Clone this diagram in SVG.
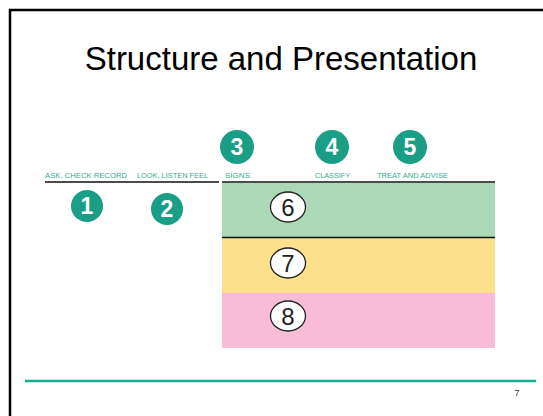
<svg xmlns="http://www.w3.org/2000/svg" width="543" height="416" viewBox="0 0 543 416">
<style>
.lbl{font-family:"Liberation Sans Narrow","Liberation Sans",Arial,sans-serif;font-size:7px;fill:#3aa992;}
.tc{fill:#1a9e86;}
.tn{font-family:"Liberation Sans",Arial,sans-serif;font-size:23px;font-weight:bold;fill:#ffffff;text-anchor:middle;}
.wc{fill:#ffffff;stroke:#222222;stroke-width:1.3;}
.wn{font-family:"Liberation Sans",Arial,sans-serif;font-size:24px;fill:#222222;text-anchor:middle;}
</style>
<rect width="543" height="416" fill="#ffffff"/>
<path d="M10 416 V10 H543" fill="none" stroke="#000000" stroke-width="2.5"/>
<text x="281" y="70" font-family="Liberation Sans, Arial, sans-serif" font-size="33" text-anchor="middle" fill="#000000">Structure and Presentation</text>
<g id="bands">
<rect x="222" y="183" width="273" height="54" fill="#acd9b5"/>
<rect x="222" y="238" width="273" height="55" fill="#fde08c"/>
<rect x="222" y="293" width="273" height="55" fill="#f8bcd6"/>
</g>
<g id="connectors">
<line x1="45" y1="182" x2="219" y2="182" stroke="#111111" stroke-width="1.3"/>
<line x1="222" y1="182" x2="495" y2="182" stroke="#111111" stroke-width="1.3"/>
<line x1="222" y1="237.5" x2="495" y2="237.5" stroke="#111111" stroke-width="1.3"/>
</g>
<g id="labels">
<text class="lbl" x="45" y="178" textLength="82" lengthAdjust="spacingAndGlyphs">ASK, CHECK RECORD</text>
<text class="lbl" x="137" y="178" textLength="71" lengthAdjust="spacingAndGlyphs">LOOK, LISTEN FEEL</text>
<text class="lbl" x="225" y="178" textLength="25" lengthAdjust="spacingAndGlyphs">SIGNS</text>
<text class="lbl" x="315" y="178" textLength="35" lengthAdjust="spacingAndGlyphs">CLASSIFY</text>
<text class="lbl" x="377" y="178" textLength="71" lengthAdjust="spacingAndGlyphs">TREAT AND ADVISE</text>
</g>
<g id="n1"><circle class="tc" cx="87" cy="206" r="16"/><text class="tn" x="87" y="214">1</text></g>
<g id="n2"><circle class="tc" cx="167" cy="209" r="16"/><text class="tn" x="167" y="217">2</text></g>
<g id="n3"><circle class="tc" cx="237" cy="147" r="17"/><text class="tn" x="237" y="155">3</text></g>
<g id="n4"><circle class="tc" cx="332" cy="147" r="17"/><text class="tn" x="332" y="155">4</text></g>
<g id="n5"><circle class="tc" cx="410" cy="147" r="17"/><text class="tn" x="410" y="155">5</text></g>
<g id="n6"><ellipse class="wc" cx="288" cy="207" rx="17.5" ry="15"/><text class="wn" x="288" y="215.5">6</text></g>
<g id="n7"><ellipse class="wc" cx="288" cy="263" rx="17.5" ry="15"/><text class="wn" x="288" y="271.5">7</text></g>
<g id="n8"><ellipse class="wc" cx="288" cy="316" rx="17.5" ry="15"/><text class="wn" x="288" y="324.5">8</text></g>
<line x1="25" y1="381" x2="536" y2="381" stroke="#17b091" stroke-width="2.5"/>
<text x="517" y="396" font-family="Liberation Sans, Arial, sans-serif" font-size="9" fill="#333333" text-anchor="middle">7</text>
</svg>
